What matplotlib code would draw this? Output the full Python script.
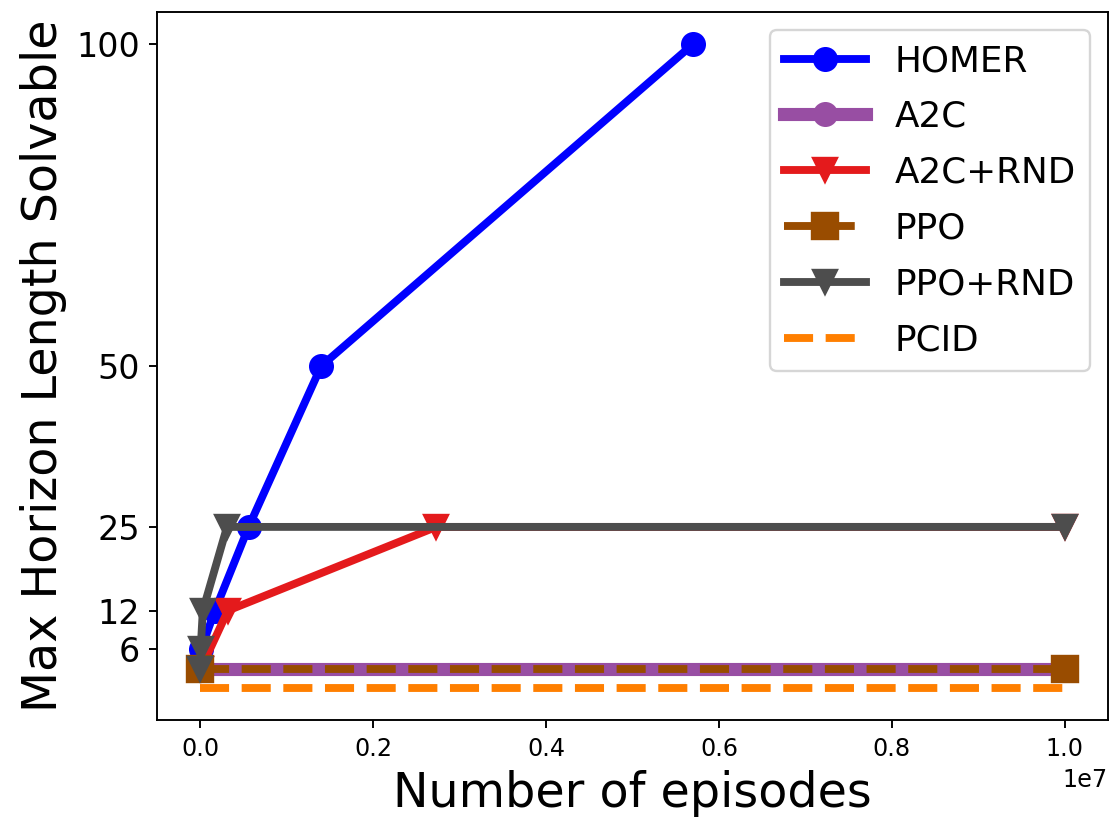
import matplotlib
matplotlib.use("Agg")
import matplotlib.pyplot as plt

# ---- data ----
homer_x = [1e4, 1.7e5, 5.6e5, 1.4e6, 5.7e6]
homer_y = [6, 12, 25, 50, 100]

a2c_x = [0, 1e7]
a2c_y = [3, 3]

a2c_rnd_x = [1e4, 3.2e5, 2.73e6, 1e7]
a2c_rnd_y = [3, 12, 25, 25]

ppo_x = [0, 1e7]
ppo_y = [3, 3]

ppo_rnd_x = [0, 5e3, 3e4, 3.1e5, 1e7]
ppo_rnd_y = [3, 6, 12, 25, 25]

pcid_x = [0, 1e7]
pcid_y = [0, 0]

yticks = [6, 12, 25, 50, 100]

DPI = 171.5
fig = plt.figure(figsize=(1112 / DPI, 823 / DPI), dpi=DPI)
ax = fig.add_axes([157 / 1112, 1 - 720 / 823, (1108 - 157) / 1112, (720 - 12) / 823])

LW = 3.3
ax.plot(homer_x, homer_y, color="#0000ff", marker="o", markersize=9.5, lw=LW, label="HOMER")
ax.plot(a2c_x, a2c_y, color="#984ea3", marker="o", markersize=9.5, lw=5.5, label="A2C")
ax.plot(a2c_rnd_x, a2c_rnd_y, color="#e41a1c", marker="v", markersize=10, lw=LW, label="A2C+RND")
ax.plot(ppo_x, ppo_y, color="#994c00", marker="s", markersize=11, lw=LW, ls="--", label="PPO")
ax.plot(ppo_rnd_x, ppo_rnd_y, color="#4d4d4d", marker="v", markersize=10, lw=LW, label="PPO+RND")
ax.plot(pcid_x, pcid_y, color="#ff7f00", lw=LW, ls="--", label="PCID")

ax.set_yticks(yticks)
ax.set_yticklabels([str(v) for v in yticks])
ax.set_xlim(-0.05e7, 1.05e7)
ax.set_ylim(-5, 105)
ax.tick_params(axis="x", labelsize=10)
ax.tick_params(axis="y", labelsize=14)
ax.set_xlabel("Number of episodes", fontsize=20)
ax.set_ylabel("Max Horizon Length Solvable", fontsize=20)
ax.legend(loc="upper right", fontsize=15, handlelength=2.3, labelspacing=0.61)

fig.savefig("out.png", dpi=DPI)
